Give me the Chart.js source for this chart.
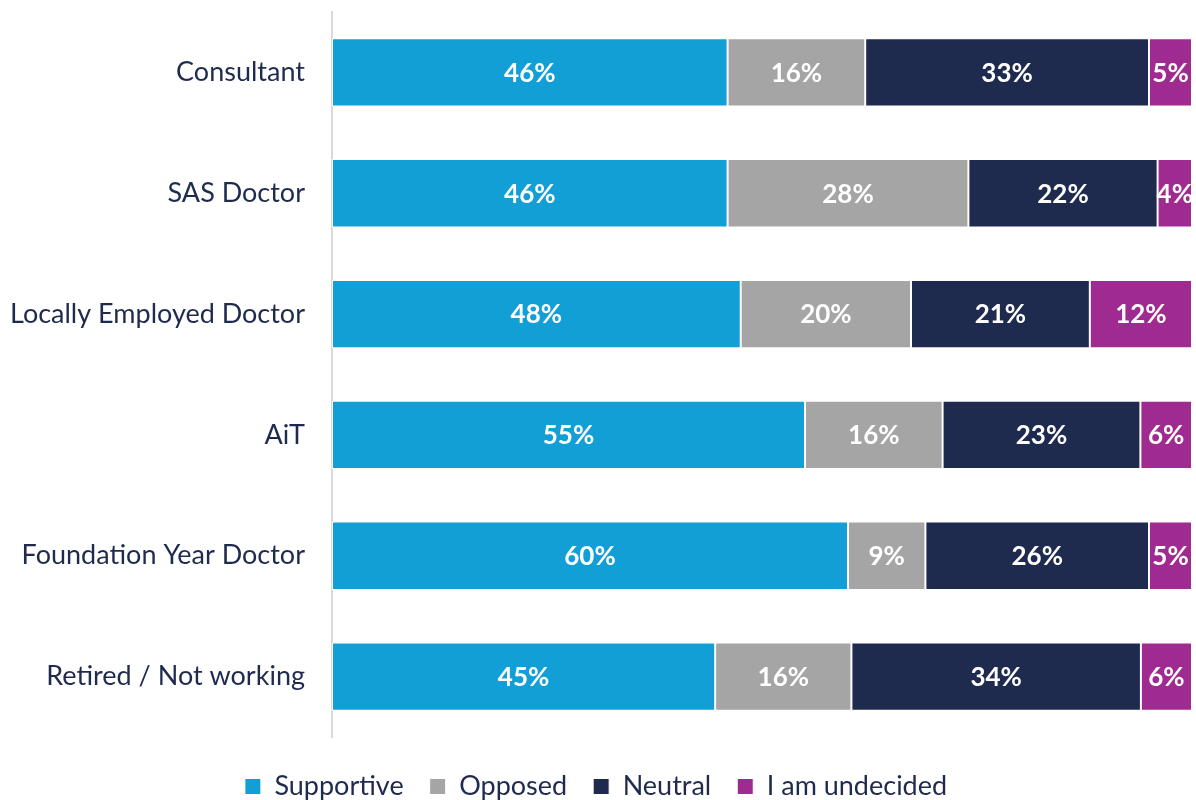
<!DOCTYPE html>
<html><head><meta charset="utf-8">
<script src="https://cdn.jsdelivr.net/npm/chart.js@4"></script>
<style>html,body{margin:0;padding:0;background:#fff}#wrap{width:1196px;height:800px}</style>
</head><body><div id="wrap"><canvas id="c" width="1196" height="800"></canvas></div>
<script>
const categories = ["Consultant","SAS Doctor","Locally Employed Doctor","AiT","Foundation Year Doctor","Retired / Not working"];
const supportive = [46,46,48,55,60,45];
const opposed    = [16,28,20,16,9,16];
const neutral    = [33,22,21,23,26,34];
const undecided  = [5,4,12,6,5,6];
const seriesNames = ["Supportive","Opposed","Neutral","I am undecided"];
const colors = ["#129FD6","#A5A5A5","#1F2B4E","#A02B90"];

const raw = [supportive, opposed, neutral, undecided];
const totals = categories.map((_, i) => raw.reduce((s, a) => s + a[i], 0));
const datasets = raw.map((arr, k) => ({
  label: seriesNames[k],
  data: arr.map((v, i) => v / totals[i] * 100),
  rawLabels: arr.map(v => v + "%"),
  backgroundColor: colors[k],
  borderColor: "#ffffff",
  borderWidth: 1,
  borderSkipped: false,
  barPercentage: 0.565,
  categoryPercentage: 1
}));

const labelPlugin = {
  id: "barLabels",
  afterDatasetsDraw(chart) {
    const ctx = chart.ctx;
    ctx.save();
    ctx.fillStyle = "#ffffff";
    ctx.font = "bold 26px Lato";
    ctx.textAlign = "center";
    ctx.textBaseline = "middle";
    chart.data.datasets.forEach((ds, di) => {
      chart.getDatasetMeta(di).data.forEach((bar, i) => {
        const p = bar.getProps(["x","y","base"], true);
        ctx.fillText(ds.rawLabels[i], (p.x + p.base) / 2, p.y + 1);
      });
    });
    ctx.restore();
  }
};

const legendShift = {
  id: "legendShift",
  afterLayout(chart) {
    if (chart.legend) { chart.legend.top += 10; chart.legend.bottom += 10; }
  }
};

new Chart(document.getElementById("c"), {
  type: "bar",
  data: { labels: categories, datasets },
  options: {
    indexAxis: "y",
    responsive: false,
    animation: false,
    layout: { padding: { top: 12, right: 4, left: 0, bottom: 0 } },
    scales: {
      x: { stacked: true, min: 0, max: 100, display: false },
      y: {
        stacked: true,
        grid: { display: false },
        border: { display: true, color: "#D9D9D9", width: 2 },
        ticks: { color: "#1F2B4E", font: { family: "Lato", size: 27 }, padding: 19 },
        afterFit(scale) { scale.width = 332; scale.paddingTop = 0; scale.paddingBottom = 0; }
      }
    },
    plugins: {
      legend: {
        position: "bottom",
        labels: {
          color: "#1F2B4E",
          font: { family: "Lato", size: 27 },
          boxWidth: 16, boxHeight: 16,
          padding: 26
        }
      },
      tooltip: { enabled: false }
    }
  },
  plugins: [labelPlugin, legendShift]
});
</script></body></html>
